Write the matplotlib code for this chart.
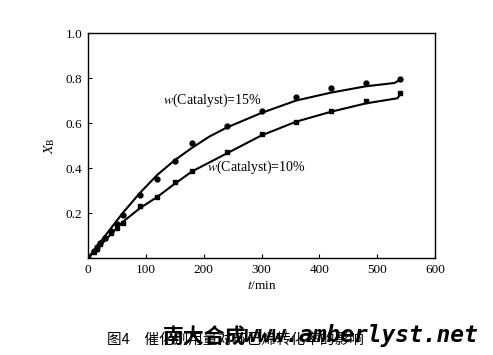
import matplotlib
matplotlib.use("Agg")
import matplotlib.pyplot as plt

# Messpunkte
# -----------------------------------------------------------------------------
t_mess = [0, 10, 15, 20, 30, 40, 50, 60, 90, 120, 150, 180, 240, 300, 360, 420, 480, 540]
x_15 = [0, 0.03, 0.05, 0.065, 0.09, 0.12, 0.15, 0.19, 0.28, 0.35, 0.43, 0.51,
        0.585, 0.655, 0.715, 0.755, 0.78, 0.795]
x_10 = [0, 0.025, 0.042, 0.062, 0.087, 0.11, 0.132, 0.155, 0.232, 0.272, 0.34, 0.387,
        0.472, 0.553, 0.606, 0.655, 0.698, 0.732]

# Modellkurven
t_mod_15 = [0, 15, 30, 45, 60, 90, 120, 150, 180, 210, 240, 300, 360, 420, 480, 530, 540]
x_mod_15 = [0, 0.05, 0.1, 0.15, 0.2, 0.29, 0.37, 0.435, 0.49, 0.54, 0.58, 0.645,
            0.7, 0.735, 0.763, 0.778, 0.793]
t_mod_10 = [0, 15, 30, 45, 60, 90, 120, 150, 180, 240, 300, 360, 420, 480, 535, 540]
x_mod_10 = [0, 0.04, 0.08, 0.12, 0.16, 0.222, 0.272, 0.33, 0.385, 0.465, 0.545,
            0.606, 0.65, 0.687, 0.71, 0.728]

x_ticks = [0, 100, 200, 300, 400, 500, 600]
y_ticks = [0.2, 0.4, 0.6, 0.8, 1.0]

caption = "图4　催化剂用量对环己烯转化率的影响"
watermark_cn = "南大合成"
watermark_url = "www.amberlyst.net"

# Plot
# -----------------------------------------------------------------------------
plt.rcParams['font.family'] = ['Liberation Serif', 'Noto Sans CJK SC']
plt.rcParams['mathtext.fontset'] = 'stix'

fig = plt.figure(figsize=(4.93, 3.55), dpi=100)
ax = fig.add_axes([0.1785, 0.2732, 0.7039, 0.6338])

ax.plot(t_mod_15, x_mod_15, color='black', lw=1.5)
ax.plot(t_mod_10, x_mod_10, color='black', lw=1.5)
ax.plot(t_mess, x_15, 'o', color='black', ms=3.5)
ax.plot(t_mess, x_10, 's', color='black', ms=3.5)

ax.set_xlim(0, 600)
ax.set_ylim(0, 1.0)
ax.set_xticks(x_ticks)
ax.set_yticks(y_ticks)
ax.set_yticklabels([f"{v:.1f}" for v in y_ticks])
ax.tick_params(direction='in', length=3, width=0.8, labelsize=9.5, pad=4)
for s in ax.spines.values():
    s.set_linewidth(1.0)

ax.text(130, 0.70, r"$\mathit{w}$(Catalyst)=15%", fontsize=10, va='center')
ax.text(205, 0.405, r"$\mathit{w}$(Catalyst)=10%", fontsize=10, va='center')

ax.set_xlabel(r"$\mathit{t}$/min", fontsize=9.5, labelpad=3)
ax.set_ylabel(r"$\mathit{X}_\mathrm{B}$", fontsize=10, labelpad=6)

fig.text(0.217, 0.042, caption, fontsize=10.5, family=['Noto Sans CJK SC'], va='center')
fig.text(0.33, 0.05, watermark_cn, fontsize=15, fontweight='bold',
         family=['Noto Sans CJK SC'], va='center')
fig.text(0.495, 0.055, watermark_url, fontsize=16.5, fontweight='bold', style='italic',
         family=['DejaVu Sans Mono'], va='center')

fig.savefig("out.png", dpi=100)
